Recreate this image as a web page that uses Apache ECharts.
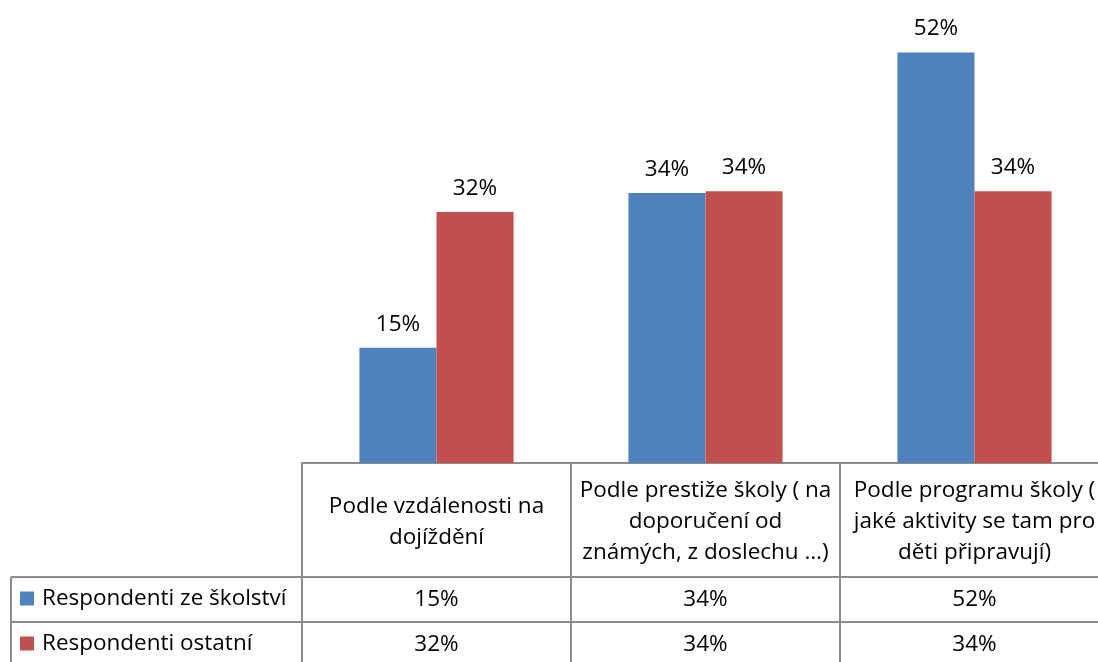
<!DOCTYPE html>
<html>
<head>
<meta charset="utf-8">
<script src="https://cdn.jsdelivr.net/npm/echarts@6/dist/echarts.min.js"></script>
<style>
html,body{margin:0;padding:0;background:#fff;}
#c{width:1098px;height:662px;}
</style>
</head>
<body>
<div id="c"></div>
<script>
// ---- data ----
const categories = [
  'Podle vzdálenosti na\ndojíždění',
  'Podle prestiže školy ( na\ndoporučení od\nznámých, z doslechu …)',
  'Podle programu školy (\njaké aktivity se tam pro\nděti připravují)'
];
const seriesNames = ['Respondenti ze školství', 'Respondenti ostatní'];
const valuesSkolstvi = [14.6, 34.2, 52.0];
const valuesOstatni = [31.8, 34.4, 34.4];
const colors = ['#4F81BD', '#C0504D'];

const FONT = '"Open Sans", sans-serif';
const FS = 22.5;
const LINE = '#8c8c8c';
const pct = v => Math.round(v) + '%';

const chart = echarts.init(document.getElementById('c'), null, {renderer: 'canvas'});

const seriesData = [valuesSkolstvi, valuesOstatni];

const option = {
  animation: false,
  backgroundColor: '#fff',
  grid: {left: 302, width: 807, top: 5, bottom: 199, containLabel: false, outerBoundsMode: 'none'},
  xAxis: {
    type: 'category',
    data: categories,
    axisLine: {show: true, lineStyle: {color: LINE, width: 2}},
    axisTick: {show: true, alignWithLabel: false, interval: 0, length: 205, lineStyle: {color: LINE, width: 2}},
    axisLabel: {
      interval: 0, margin: 59, verticalAlign: 'middle', align: 'center',
      fontFamily: FONT, fontSize: FS, lineHeight: 31, color: '#000'
    },
    splitLine: {show: false}
  },
  yAxis: {
    type: 'value', min: 0, max: 58, show: false,
    splitLine: {show: false}
  },
  series: seriesNames.map((n, i) => ({
    name: n,
    type: 'bar',
    data: seriesData[i],
    barGap: '0%',
    barCategoryGap: '42.7%',
    itemStyle: {color: colors[i]},
    label: {
      show: true, position: 'top', distance: 12,
      formatter: p => pct(p.value),
      fontFamily: FONT, fontSize: FS, color: '#000'
    }
  }))
};
chart.setOption(option);

// ---- data table below the plot ----
function buildTable() {
  const yAxisLine = chart.convertToPixel({yAxisIndex: 0}, 0);
  const row1Top = yAxisLine + 114;
  const row2Top = row1Top + 45;
  const rowH = 45;
  const leftX = 11;
  const rightX = 1110;
  const els = [];
  [row1Top, row2Top].forEach(y => {
    els.push({type: 'line', shape: {x1: leftX, y1: y, x2: rightX, y2: y}, style: {stroke: LINE, lineWidth: 2}});
  });
  els.push({type: 'line', shape: {x1: leftX, y1: row1Top, x2: leftX, y2: 700}, style: {stroke: LINE, lineWidth: 2}});
  seriesNames.forEach((n, i) => {
    const cy = (i === 0 ? row1Top : row2Top) + rowH / 2 - 1;
    els.push({type: 'rect', shape: {x: 20, y: cy - 7, width: 14, height: 14}, style: {fill: colors[i]}});
    els.push({type: 'text', x: 42, y: cy, style: {text: n, font: FS + 'px ' + FONT, fill: '#000', verticalAlign: 'middle'}});
  });
  seriesData.forEach((arr, i) => {
    const cy = (i === 0 ? row1Top : row2Top) + rowH / 2;
    arr.forEach((v, j) => {
      const cx = chart.convertToPixel({xAxisIndex: 0}, j);
      els.push({type: 'text', x: cx, y: cy, style: {text: pct(v), font: FS + 'px ' + FONT, fill: '#000', align: 'center', verticalAlign: 'middle'}});
    });
  });
  chart.setOption({graphic: {elements: els}});
}
buildTable();
</script>
</body>
</html>
